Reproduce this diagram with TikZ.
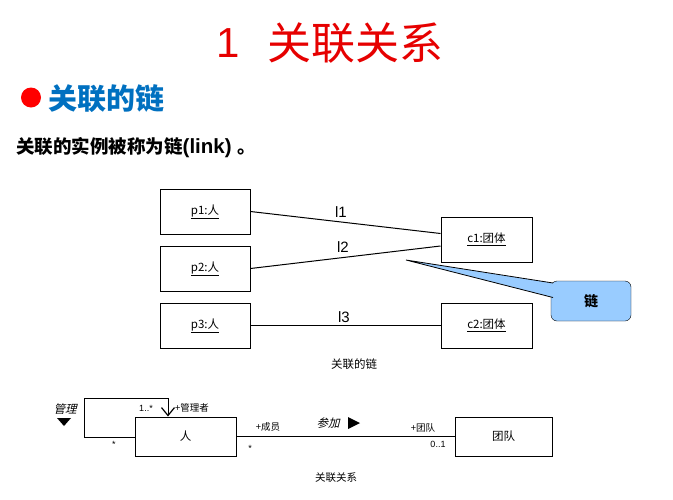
\documentclass[tikz,border=0pt]{standalone}
\usepackage{fontspec}
\setmainfont{Liberation Sans}
\newfontfamily\cjk{Noto Sans CJK SC}
\newfontfamily\cjkit[FakeSlant=0.25]{Noto Sans CJK SC}
\usetikzlibrary{arrows.meta,calc}
\definecolor{calloutblue}{RGB}{153,204,255}
\definecolor{headblue}{RGB}{0,112,192}
\definecolor{titlered}{RGB}{230,0,0}
\begin{document}
\begin{tikzpicture}[x=1pt,y=-1pt,
  objbox/.style={draw, line width=1pt, minimum width=90pt, minimum height=45pt, inner sep=0pt, font=\cjk\fontsize{11.5}{11.5}\selectfont},
  umlbox/.style={draw, line width=1pt, minimum height=39pt, inner sep=0pt, font=\cjk\fontsize{11.5}{11.5}\selectfont},
  linklbl/.style={font=\fontsize{15}{15}\selectfont, inner sep=0pt},
  small/.style={font=\cjk\fontsize{9.5}{9.5}\selectfont, inner sep=0pt},
  smallascii/.style={font=\fontsize{9}{9}\selectfont, inner sep=0pt},
  smallit/.style={font=\cjkit\fontsize{11.5}{11.5}\selectfont, inner sep=0pt},
  linkline/.style={line width=1pt},
  callout/.style={draw, rounded corners=6pt, fill=calloutblue, minimum width=80pt, minimum height=40pt, inner sep=0pt, font=\cjk\bfseries\fontsize{14}{14}\selectfont}
]
\useasboundingbox (0,0) rectangle (673,499);

% headings
\node[text=titlered, font=\fontsize{42}{42}\selectfont, inner sep=0pt] (tnum) at (228,43) {1};
\node[text=titlered, font=\cjk\fontsize{44}{44}\selectfont, inner sep=0pt] (ttl) at (355,43) {关联关系};
\node[circle, fill=red, minimum width=20pt, minimum height=20pt, inner sep=0pt] (bul) at (31,97.5) {};
\node[anchor=west, text=headblue, font=\cjk\bfseries\fontsize{29}{29}\selectfont, inner sep=0pt] (sub) at (48,99) {关联的链};
\node[anchor=west, font=\cjk\bfseries\fontsize{18.5}{19}\selectfont, inner sep=0pt] (desc) at (16,148) {关联的实例被称为链{\rmfamily\bfseries\fontsize{20.5}{20.5}\selectfont(link)~}。};

% object diagram
\node[objbox] (p1) at (205,211.5) {\underline{p1:人}};
\node[objbox] (p2) at (205,268.5) {\underline{p2:人}};
\node[objbox] (p3) at (205,325.5) {\underline{p3:人}};
\node[objbox, minimum width=91pt] (c1) at (486.5,239.5) {\underline{c1:团体}};
\node[objbox, minimum width=91pt] (c2) at (486.5,325.5) {\underline{c2:团体}};
\draw[linkline] (p1.east) -- ($(c1.west)+(0,-6)$);
\draw[linkline] (p2.east) -- ($(c1.west)+(0,6.5)$);
\draw[linkline] (p3.east) -- (c2.west);
\node[linklbl] (l1) at (341,212) {l1};
\node[linklbl] (l2) at (343,247) {l2};
\node[linklbl] (l3) at (344,317) {l3};
\node[font=\cjk\fontsize{11.5}{11.5}\selectfont, inner sep=0pt] (cap1) at (354,364) {关联的链};

% callout
\node[callout] (lk) at (591,301) {链};
\coordinate (tip) at (406,260);
\coordinate (ba) at (553,283);
\coordinate (bb) at (553,297.5);
\fill[calloutblue] (tip) -- (ba) -- (bb) -- cycle;
\draw[line width=0.8pt] (ba) -- (tip) -- (bb);

% class diagram
\node[umlbox, minimum width=101pt] (ren) at (185.5,436.5) {人};
\node[umlbox, minimum width=97pt] (team) at (503.5,436.5) {团队};
\coordinate (lpA) at (84,437);
\coordinate (lpB) at (84,398);
\coordinate (lpC) at (168,398);
\draw[line width=0.8pt, -{Straight Barb[length=8pt,width=13pt,line width=1.2pt]}] (ren.west |- lpA) -- (lpA) -- (lpB) -- (lpC) -- (lpC |- ren.north);
\draw[line width=1pt] (ren.east) -- (team.west);
\node[smallit] (mg) at (65,409) {管理};
\fill (57,418) -- (71,418) -- (64,426) -- cycle;
\node[smallascii] (m1) at (146,408) {1..*};
\node[small, anchor=west] (mgr) at (175,408) {+管理者};
\node[smallascii] (m2) at (114,444) {*};
\node[small] (cy) at (268,427) {+成员};
\node[smallascii] (m3) at (250,448) {*};
\node[smallit] (cj) at (328,423) {参加};
\fill (348,417) -- (360,423) -- (348,429) -- cycle;
\node[small] (td) at (423,428) {+团队};
\node[smallascii] (m4) at (438,444) {0..1};
\node[font=\cjk\fontsize{10.5}{10.5}\selectfont, inner sep=0pt] (cap2) at (336,478) {关联关系};
\end{tikzpicture}
\end{document}
